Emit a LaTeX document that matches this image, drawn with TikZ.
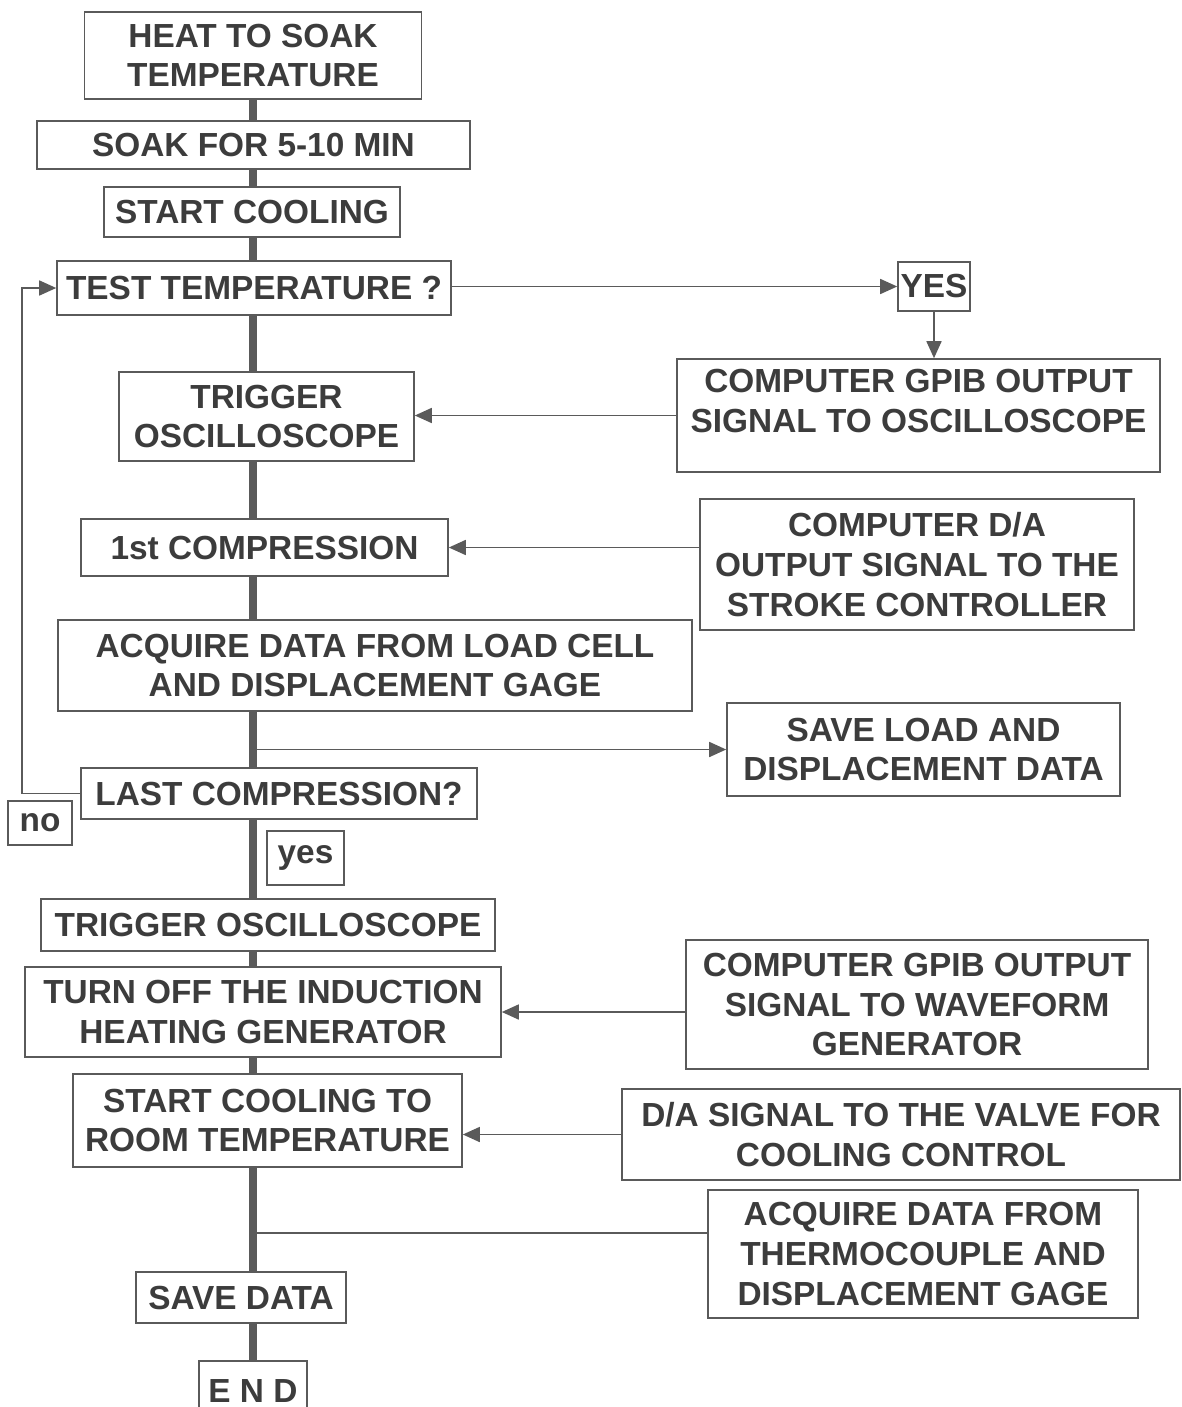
\documentclass[tikz,border=0pt]{standalone}
\usepackage{fontspec}
\setmainfont{Liberation Sans}
\usetikzlibrary{arrows.meta,backgrounds}

\definecolor{ink}{HTML}{3C3C3C}
\definecolor{rule}{HTML}{5A5A5A}

\tikzset{%
  box/.style={draw=rule, fill=white, line width=0.9pt, inner sep=0pt, align=center, text=ink,
              font=\fontsize{19}{22.7}\selectfont\bfseries},
  sz/.style 2 args={minimum width=#1*0.02cm, minimum height=#2*0.02cm},
  line/.style={draw=rule, line width=0.9pt},
  arr/.style={line, -{Triangle[length=0.34cm,width=0.3cm]}},
  trunk/.style={draw=rule, line width=0.16cm},
}

\begin{document}
\begin{tikzpicture}[x=0.02cm, y=-0.02cm]
\useasboundingbox (0,0) rectangle (1181,1407);
\clip (0,0) rectangle (1181,1407);
% main column
\node[box, sz={337}{87}] (heat) at (253,55.5) {HEAT TO SOAK\\TEMPERATURE};
\node[box, sz={433}{48}] (soak) at (253.5,145) {SOAK FOR 5-10 MIN};
\node[box, sz={296}{50}] (startc) at (252,212) {START COOLING};
\node[box, sz={394}{54}] (test) at (254,288) {TEST TEMPERATURE ?};
\node[box, sz={295}{89}] (trig1) at (266.5,416.5) {TRIGGER\\OSCILLOSCOPE};
\node[box, sz={367}{57}] (comp1) at (264.5,547.5) {1st COMPRESSION};
\node[box, sz={634}{91}] (acq1) at (375,665.5) {ACQUIRE DATA FROM LOAD CELL\\AND DISPLACEMENT GAGE};
\node[box, sz={396}{51}] (last) at (279,793.5) {LAST COMPRESSION?};
\node[box, sz={64}{44}] (no) at (40,823) {no};
\node[box, sz={77}{54}] (yes2) at (305.5,858) {yes};
\node[box, sz={454}{52}] (trig2) at (268,925) {TRIGGER OSCILLOSCOPE};
\node[box, sz={476}{90}] (turnoff) at (263,1012) {TURN OFF THE INDUCTION\\HEATING GENERATOR};
\node[box, sz={389}{93}] (startroom) at (267.5,1120.5) {START COOLING TO\\ROOM TEMPERATURE};
\node[box, sz={210}{51}] (save) at (241,1297.5) {SAVE DATA};
\node[box, sz={108}{60}] (end) at (253,1391) {E N D};
% right column
\node[box, sz={72}{49}] (yes1) at (934,286.5) {YES};
\node[box, sz={483}{113}] (gpib1) at (918.5,415.5) {COMPUTER GPIB OUTPUT\\SIGNAL TO OSCILLOSCOPE\\[-0.2cm]\mbox{}};
\node[box, sz={434}{131}] (da1) at (917,564.5) {COMPUTER D/A\\OUTPUT SIGNAL TO THE\\STROKE CONTROLLER};
\node[box, sz={393}{93}] (saveload) at (923.5,749.5) {SAVE LOAD AND\\DISPLACEMENT DATA};
\node[box, sz={462}{129}] (gpib2) at (917,1004.5) {COMPUTER GPIB OUTPUT\\SIGNAL TO WAVEFORM\\GENERATOR};
\node[box, sz={558}{91}] (valve) at (901,1134.5) {D/A SIGNAL TO THE VALVE FOR\\COOLING CONTROL};
\node[box, sz={430}{128}] (acq2) at (923,1254) {ACQUIRE DATA FROM\\THERMOCOUPLE AND\\DISPLACEMENT GAGE};

\begin{scope}[on background layer]
\draw[trunk] (heat.south) -- (end.north);
\end{scope}

\draw[arr] (yes1.west -| test.east) -- (yes1.west);
\draw[arr] (yes1.south) -- (yes1.south |- gpib1.north);
\draw[arr] (gpib1.west) -- (gpib1.west -| trig1.east);
\draw[arr] (da1.west |- comp1) -- (comp1.east);
\draw[arr] (saveload.west -| heat) -- (saveload.west);
\draw[arr] (last.west) -- (last.west -| no) -- ++(-18,0) |- (test.west);
\draw[arr] (gpib2.west |- turnoff) -- (turnoff.east);
\draw[arr] (valve.west) -- (valve.west -| startroom.east);
\coordinate (tap) at ([yshift=0.42cm]acq2.west);
\draw[line] (tap) -- (tap -| end);
\end{tikzpicture}
\end{document}
